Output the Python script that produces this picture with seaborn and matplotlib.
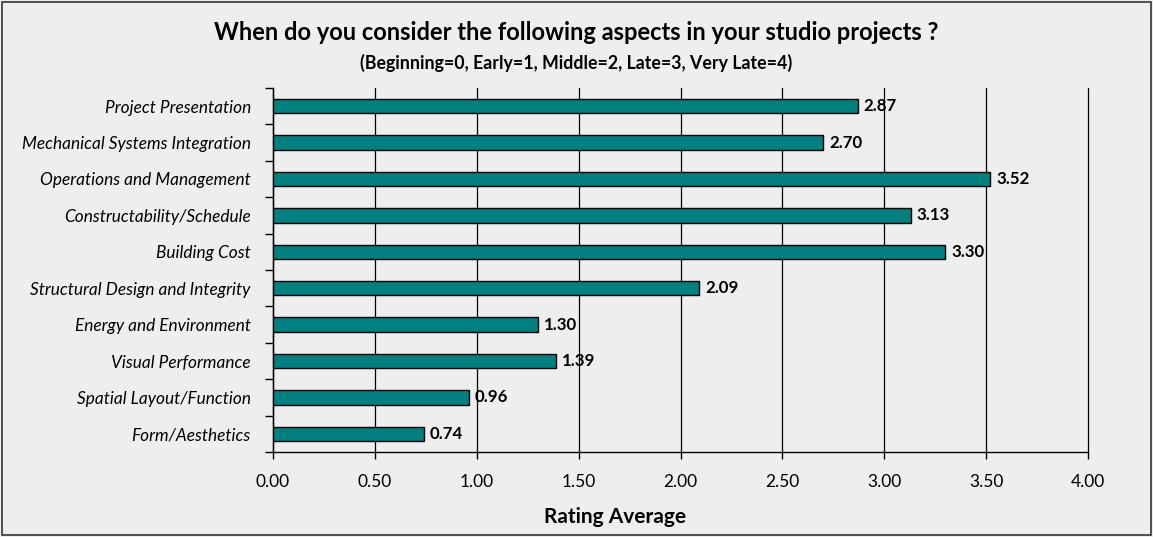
import matplotlib
matplotlib.use("Agg")
import matplotlib.pyplot as plt
from matplotlib.patches import Rectangle
from matplotlib.ticker import FixedLocator, MultipleLocator
import pandas as pd
import seaborn as sns

categories = [
    "Project Presentation",
    "Mechanical Systems Integration",
    "Operations and Management",
    "Constructability/Schedule",
    "Building Cost",
    "Structural Design and Integrity",
    "Energy and Environment",
    "Visual Performance",
    "Spatial Layout/Function",
    "Form/Aesthetics",
]
ratings = [2.87, 2.70, 3.52, 3.13, 3.30, 2.09, 1.30, 1.39, 0.96, 0.74]

title = "When do you consider the following aspects in your studio projects ?"
subtitle = "(Beginning=0, Early=1, Middle=2, Late=3, Very Late=4)"
x_label = "Rating Average"

bg = "#eeeeee"
bar_color = "#008080"

sns.set_theme(style="white")
plt.rcParams["font.family"] = ["Lato", "DejaVu Sans"]
plt.rcParams["text.color"] = "black"
plt.rcParams["xtick.color"] = "black"
plt.rcParams["ytick.color"] = "black"
plt.rcParams["axes.labelcolor"] = "black"

df = pd.DataFrame({"aspect": categories, "rating": ratings})

fig = plt.figure(figsize=(11.53, 5.37), dpi=100, facecolor=bg)
ax = fig.add_axes([273 / 1153, 1 - 452 / 537, (1088 - 273) / 1153, (452 - 88) / 537])
ax.set_facecolor(bg)

sns.barplot(data=df, x="rating", y="aspect", order=categories, color=bar_color,
            saturation=1, width=0.4, edgecolor="black", linewidth=1.0, ax=ax,
            zorder=3)

ax.set_xlim(0, 4)
ax.set_ylim(len(categories) - 0.5, -0.5)
ax.xaxis.set_major_locator(MultipleLocator(0.5))
ax.set_xticklabels([f"{v:.2f}" for v in ax.get_xticks()], fontsize=12.5)
ax.grid(axis="x", color="black", linewidth=0.9, zorder=0)
ax.grid(axis="y", visible=False)
for gl in ax.get_xgridlines():
    gl.set_clip_on(False)

# category ticks sit between bars
ax.yaxis.set_major_locator(FixedLocator(range(len(categories))))
ax.set_yticklabels(categories, fontsize=12.4, style="italic")
ax.yaxis.set_minor_locator(FixedLocator([i - 0.5 for i in range(len(categories) + 1)]))
ax.tick_params(axis="y", which="major", length=0, pad=16)
ax.tick_params(axis="y", which="minor", length=6, width=1, color="black", direction="out", left=True)
ax.tick_params(axis="x", which="major", length=5, width=1, color="black", direction="out", bottom=True, pad=11)

for side in ["top", "right"]:
    ax.spines[side].set_visible(False)
for side in ["left", "bottom"]:
    ax.spines[side].set_color("black")
    ax.spines[side].set_linewidth(1.0)

ax.set_ylabel("")
ax.set_xlabel(x_label, fontsize=15, fontweight="bold")
ax.xaxis.label.set_va("center")
ax.xaxis.set_label_coords(0.42, -0.179)

for i, v in enumerate(ratings):
    ax.text(v + 0.03, i, f"{v:.2f}", va="center", ha="left", fontsize=12.2,
            fontweight="bold", zorder=4)

fig.text(0.5, 1 - 33 / 537, title, ha="center", va="center", fontsize=17, fontweight="bold")
fig.text(0.5, 1 - 63 / 537, subtitle, ha="center", va="center", fontsize=12.8, fontweight="bold")

fig.patches.append(Rectangle((0.002, 0.003), 0.996, 0.994, transform=fig.transFigure,
                             fill=False, edgecolor="#333333", linewidth=1.2))

fig.savefig("out.png", dpi=100, facecolor=bg)
